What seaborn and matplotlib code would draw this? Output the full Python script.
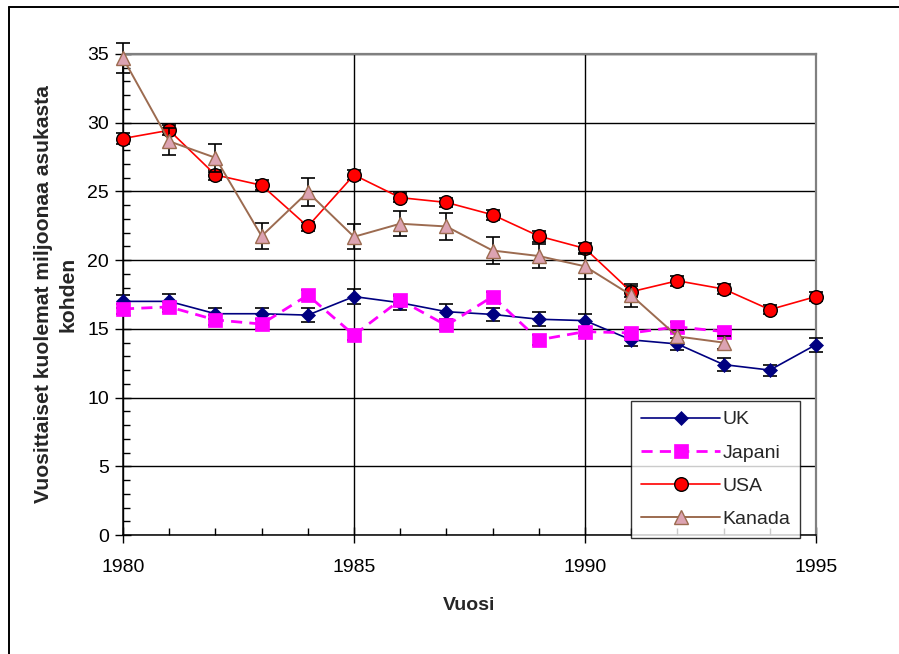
import matplotlib
matplotlib.use("Agg")
import matplotlib.pyplot as plt
from matplotlib.ticker import MultipleLocator
import seaborn as sns
import pandas as pd

# Annual deaths per million inhabitants, with error margins
years_long = list(range(1980, 1996))
years_short = list(range(1980, 1994))

uk = [17.0, 17.0, 16.1, 16.1, 16.0, 17.35, 16.9, 16.25, 16.05, 15.7, 15.6,
      14.2, 13.9, 12.4, 12.0, 13.85]
uk_err = [0.5, 0.55, 0.4, 0.4, 0.53, 0.55, 0.5, 0.55, 0.5, 0.5, 0.5,
          0.45, 0.45, 0.45, 0.4, 0.5]

japani = [16.45, 16.6, 15.65, 15.35, 17.45, 14.55, 17.1, 15.25, 17.35, 14.2,
          14.8, 14.7, 15.15, 14.8]
japani_err = [0.35] * 14

usa = [28.85, 29.45, 26.2, 25.45, 22.45, 26.2, 24.55, 24.2, 23.3, 21.75,
       20.85, 17.7, 18.5, 17.9, 16.4, 17.35]
usa_err = [0.4, 0.35, 0.35, 0.35, 0.35, 0.35, 0.35, 0.35, 0.35, 0.4, 0.4,
           0.4, 0.35, 0.35, 0.3, 0.35]

kanada = [34.7, 28.65, 27.45, 21.75, 24.95, 21.7, 22.65, 22.45, 20.7, 20.3,
          19.55, 17.45, 14.45, 14.0]
kanada_err = [1.1, 1.0, 1.0, 0.95, 1.0, 0.9, 0.9, 1.0, 0.95, 0.9, 0.95,
              0.85, 0.5, 0.5]

x_ticks = [1980, 1985, 1990, 1995]
y_ticks = [0, 5, 10, 15, 20, 25, 30, 35]
x_label = "Vuosi"
y_label = "Vuosittaiset kuolemat miljoonaa asukasta\nkohden"

sns.set_theme(style="white")
plt.rcParams["font.family"] = ["Liberation Sans", "DejaVu Sans"]

fig = plt.figure(figsize=(8.99, 6.54), dpi=100)
ax = fig.add_axes([123 / 899, 1 - 535 / 654, (816 - 123) / 899, (535 - 54) / 654])
ax.set_facecolor("white")

series = [
    dict(name="UK", x=years_long, y=uk, err=uk_err, color="#000080",
         marker="D", ms=7.6, mfc="#000080", mec="#000080", mew=0.5,
         ls="-", lw=1.2),
    dict(name="Japani", x=years_short, y=japani, err=japani_err,
         color="#FF00FF", marker="s", ms=10.5, mfc="#FF00FF", mec="#FF00FF",
         mew=0.5, ls=(0, (4, 2.6)), lw=2.0),
    dict(name="USA", x=years_long, y=usa, err=usa_err, color="#FF0000",
         marker="o", ms=9.8, mfc="#FF0000", mec="black", mew=1.0,
         ls="-", lw=1.2),
    dict(name="Kanada", x=years_short, y=kanada, err=kanada_err,
         color="#9C6B50", marker="^", ms=10.5, mfc="#DCA3B2", mec="#9C6B50",
         mew=1.0, ls="-", lw=1.4),
]

for i, s in enumerate(series):
    df = pd.DataFrame({"Vuosi": s["x"], "arvo": s["y"]})
    z = 3 + i
    ax.errorbar(df["Vuosi"], df["arvo"], yerr=s["err"], fmt="none",
                ecolor="black", elinewidth=1.2, capsize=4.8, capthick=1.2,
                zorder=z, clip_on=False)
    sns.lineplot(data=df, x="Vuosi", y="arvo", ax=ax, color=s["color"],
                 marker=s["marker"], markersize=s["ms"],
                 markerfacecolor=s["mfc"], markeredgecolor=s["mec"],
                 markeredgewidth=s["mew"], linestyle=s["ls"],
                 linewidth=s["lw"], label=s["name"], zorder=z + 0.5,
                 clip_on=False)

ax.set_xlim(1980, 1995)
ax.set_ylim(0, 35)
ax.set_xticks(x_ticks)
ax.set_yticks(y_ticks)
ax.xaxis.set_minor_locator(MultipleLocator(1))
ax.yaxis.set_minor_locator(MultipleLocator(1))

ax.grid(True, which="major", color="black", linewidth=1.0)
ax.set_axisbelow(True)

for side in ["top", "right"]:
    ax.spines[side].set_color("#808080")
    ax.spines[side].set_linewidth(1.6)
for side in ["left", "bottom"]:
    ax.spines[side].set_color("black")
    ax.spines[side].set_linewidth(1.1)

ax.tick_params(axis="both", which="major", direction="inout", length=12,
               width=1.0, color="black", labelsize=14, labelcolor="black")
ax.tick_params(axis="x", which="major", pad=11)
ax.tick_params(axis="y", which="major", pad=4)
ax.tick_params(axis="both", which="minor", direction="in", length=5,
               width=1.0, color="black")
ax.tick_params(left=True, bottom=True, which="both")

ax.set_xlabel("")
ax.set_ylabel("")
fig.text(469.5 / 899, 1 - 605 / 654, x_label, ha="center", va="center",
         fontsize=14, fontweight="bold")
fig.text(56 / 899, 1 - 294 / 654, y_label, ha="center", va="center",
         rotation=90, fontsize=15.2, fontweight="bold",
         multialignment="center", linespacing=1.35)

leg = ax.legend(loc="upper left", bbox_to_anchor=(631 / 899, 1 - 401 / 654),
                bbox_transform=fig.transFigure, frameon=True, fancybox=False,
                edgecolor="black", fontsize=14, handlelength=4.1,
                handletextpad=0.12, labelspacing=0.8, borderpad=0.5,
                borderaxespad=0.0)
leg.get_frame().set_linewidth(1.0)
leg.set_zorder(20)

# chart area frame along the top and left edges
fig.add_artist(plt.Line2D([9 / 899, 9 / 899], [0, 1 - 7 / 654],
                          transform=fig.transFigure, color="black", lw=1.4))
fig.add_artist(plt.Line2D([9 / 899, 1], [1 - 7 / 654, 1 - 7 / 654],
                          transform=fig.transFigure, color="black", lw=1.4))

fig.savefig("out.png", dpi=100, facecolor="white")
